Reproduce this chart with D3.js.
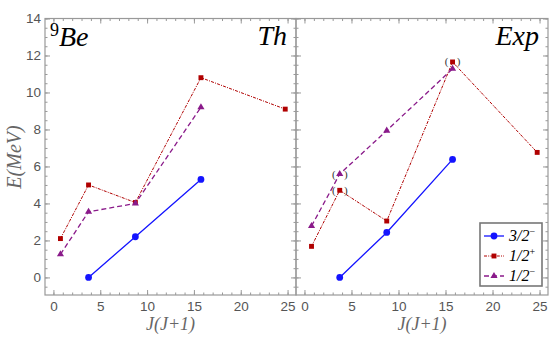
<!DOCTYPE html>
<html>
<head>
<meta charset="utf-8">
<script src="https://cdn.jsdelivr.net/npm/d3@7"></script>
<style>
  html, body { margin: 0; padding: 0; background: #fff; }
  svg { display: block; }
  .serif { font-family: "Liberation Serif", "Times New Roman", serif; }
</style>
</head>
<body>
<svg id="chart" width="554" height="354"></svg>
<script>
// 9Be band energies vs J(J+1): theory (left) and experiment (right)

// ----- Data -----
const jj = [0.75, 3.75, 8.75, 15.75, 24.75];   // J(J+1) for J = 1/2 .. 9/2

const th32m = [null, 0, 2.2, 5.3, null];
const th12p = [2.1, 5.0, 4.05, 10.8, 9.1];
const th12m = [1.25, 3.55, 4.0, 9.2, null];

const exp32m = [null, 0, 2.43, 6.38, null];
const exp12p = [1.68, 4.71, 3.05, 11.65, 6.76];
const exp12m = [2.78, 5.59, 7.94, 11.28, null];

// experimental points with tentative assignment, drawn in ( )
const tentative = [
  { series: "12m", i: 1 },
  { series: "12p", i: 1 },
  { series: "12p", i: 3 }
];

const xTicks = [0, 5, 10, 15, 20, 25];
const yTicks = [0, 2, 4, 6, 8, 10, 12, 14];
const legendLabels = ["3/2", "1/2", "1/2"];
const legendSigns = ["\u2212", "+", "\u2212"];

// ----- Styles -----
const FRAME = "#999";
const TICKTXT = "#555";
const SANS = "'Liberation Sans', Arial, sans-serif";

const styles = {
  "32m": { color: "#1414ff", dash: null, width: 1.3, shape: "circle" },
  "12p": { color: "#b00000", dash: "3,1.2,1,1.2", width: 1, shape: "square" },
  "12m": { color: "#8a1a8a", dash: "5,3", width: 1.3, shape: "triangle" }
};

const svg = d3.select("#chart");

const y = d3.scaleLinear().domain([-0.95, 14]).range([295, 18.5]);

const panels = [
  { name: "Th", range: [45, 296], data: { "32m": th32m, "12p": th12p, "12m": th12m }, yLabels: true },
  { name: "Exp", range: [296, 548], data: { "32m": exp32m, "12p": exp12p, "12m": exp12m }, yLabels: false }
];

function markerPath(shape) {
  if (shape === "circle") return d3.symbol(d3.symbolCircle, 36)();
  if (shape === "square") return d3.symbol(d3.symbolSquare, 24)();
  return d3.symbol(d3.symbolTriangle, 22)();
}

function styleAxis(g) {
  g.select(".domain").remove();
  g.selectAll("line").attr("stroke", FRAME).attr("stroke-width", 1);
  g.selectAll("text").attr("fill", TICKTXT).attr("font-family", SANS).attr("font-size", 13.5);
}

panels.forEach(p => {
  const x = d3.scaleLinear().domain([-0.9, 25.9]).range(p.range);
  const [x0, x1] = p.range;
  const [yb, yt] = y.range();
  const xMinor = d3.range(0, 26, 1);
  const yMinor = d3.range(-0.5, 14.01, 0.5);

  const g = svg.append("g");

  // minor ticks on all four sides
  g.append("g").attr("transform", `translate(0,${yb})`)
    .call(d3.axisBottom(x).tickValues(xMinor).tickSize(-2.5).tickFormat("")).call(styleAxis);
  g.append("g").attr("transform", `translate(0,${yt})`)
    .call(d3.axisTop(x).tickValues(xMinor).tickSize(-2.5).tickFormat("")).call(styleAxis);
  g.append("g").attr("transform", `translate(${x0},0)`)
    .call(d3.axisLeft(y).tickValues(yMinor).tickSize(-2.5).tickFormat("")).call(styleAxis);
  g.append("g").attr("transform", `translate(${x1},0)`)
    .call(d3.axisRight(y).tickValues(yMinor).tickSize(-2.5).tickFormat("")).call(styleAxis);

  // major ticks
  g.append("g").attr("transform", `translate(0,${yb})`)
    .call(d3.axisBottom(x).tickValues(xTicks).tickSizeInner(-5).tickPadding(6)).call(styleAxis);
  g.append("g").attr("transform", `translate(0,${yt})`)
    .call(d3.axisTop(x).tickValues(xTicks).tickSize(-5).tickFormat("")).call(styleAxis);
  g.append("g").attr("transform", `translate(${x0},0)`)
    .call(d3.axisLeft(y).tickValues(yTicks).tickSizeInner(-5).tickPadding(4)
      .tickFormat(p.yLabels ? d3.format("d") : "")).call(styleAxis);
  g.append("g").attr("transform", `translate(${x1},0)`)
    .call(d3.axisRight(y).tickValues(yTicks).tickSize(-5).tickFormat("")).call(styleAxis);

  // frame
  g.append("rect")
    .attr("x", x0).attr("y", yt).attr("width", x1 - x0).attr("height", yb - yt)
    .attr("fill", "none").attr("stroke", FRAME).attr("stroke-width", 1.2);

  // series
  ["12p", "12m", "32m"].forEach(key => {
    const s = styles[key];
    const pts = p.data[key].map((v, i) => ({ x: jj[i], v })).filter(d => d.v != null);
    const line = d3.line().x(d => x(d.x)).y(d => y(d.v));
    g.append("path").datum(pts)
      .attr("d", line)
      .attr("fill", "none")
      .attr("stroke", s.color)
      .attr("stroke-width", s.width)
      .attr("stroke-dasharray", s.dash);
    g.selectAll(null).data(pts).enter().append("path")
      .attr("d", markerPath(s.shape))
      .attr("transform", d => `translate(${x(d.x)},${y(d.v)})`)
      .attr("fill", s.color);
  });

  // tentative assignments
  if (p.name === "Exp") {
    tentative.forEach(t => {
      const cx = x(jj[t.i]), cy = y(p.data[t.series][t.i]);
      [["(", -6], [")", 6]].forEach(([ch, dx]) => {
        g.append("text").attr("class", "serif")
          .attr("x", cx + dx).attr("y", cy + 3.5)
          .attr("text-anchor", "middle")
          .attr("font-size", 11)
          .attr("fill", "#333").text(ch);
      });
    });
  }

  // panel name
  g.append("text").attr("class", "serif")
    .attr("x", x1 - 9).attr("y", 45)
    .attr("text-anchor", "end")
    .attr("font-style", "italic")
    .attr("font-size", 28).attr("fill", "#000")
    .text(p.name);

  // x label
  g.append("text").attr("class", "serif")
    .attr("x", (x0 + x1) / 2).attr("y", 330)
    .attr("text-anchor", "middle")
    .attr("font-style", "italic")
    .attr("font-size", 18).attr("fill", "#666")
    .text("J(J+1)");
});

// nucleus label
const nuc = svg.append("text").attr("class", "serif")
  .attr("x", 50).attr("y", 46)
  .attr("font-size", 28).attr("fill", "#000");
nuc.append("tspan").attr("font-size", 18).attr("dy", -10).text("9");
nuc.append("tspan").attr("font-style", "italic").attr("dy", 10).text("Be");

// y label
svg.append("text").attr("class", "serif")
  .attr("transform", "translate(21,157) rotate(-90)")
  .attr("text-anchor", "middle")
  .attr("font-style", "italic")
  .attr("font-size", 20).attr("fill", "#666")
  .text("E(MeV)");

// legend
const lg = svg.append("g");
lg.append("rect")
  .attr("x", 480).attr("y", 223).attr("width", 62).attr("height", 63)
  .attr("fill", "#fff").attr("stroke", "#777").attr("stroke-width", 1.6);
["32m", "12p", "12m"].forEach((key, i) => {
  const s = styles[key];
  const ly = 236 + i * 20;
  lg.append("line")
    .attr("x1", 484).attr("x2", 504).attr("y1", ly).attr("y2", ly)
    .attr("stroke", s.color).attr("stroke-width", s.width)
    .attr("stroke-dasharray", s.dash);
  lg.append("path").attr("d", markerPath(s.shape))
    .attr("transform", `translate(494,${ly})`).attr("fill", s.color);
  const t = lg.append("text").attr("class", "serif")
    .attr("x", 509).attr("y", ly + 5)
    .attr("font-style", "italic")
    .attr("font-size", 16).attr("fill", "#000")
    .text(legendLabels[i]);
  t.append("tspan").attr("font-size", 10).attr("dy", -6).attr("font-style", "normal")
    .text(legendSigns[i]);
});
</script>
</body>
</html>
